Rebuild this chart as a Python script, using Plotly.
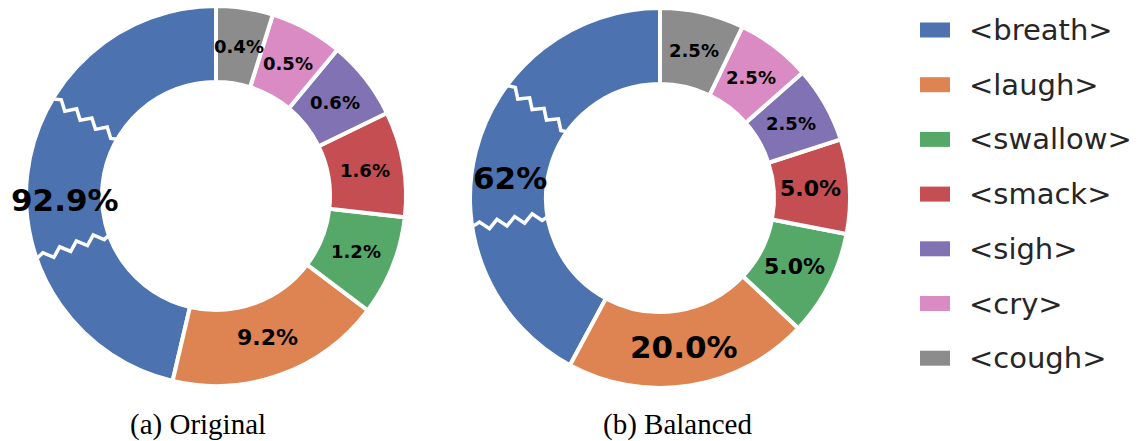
import math
import plotly.graph_objects as go

# ---------------- data ----------------
categories = ["<breath>", "<laugh>", "<swallow>", "<smack>", "<sigh>", "<cry>", "<cough>"]
colors = ["#4C72B0", "#DD8452", "#55A868", "#C44E52", "#8172B3", "#DA8BC3", "#8C8C8C"]

# printed percentages
original_labels = ["92.9%", "9.2%", "1.2%", "1.6%", "0.6%", "0.5%", "0.4%"]
balanced_labels = ["62%", "20.0%", "5.0%", "5.0%", "2.5%", "2.5%", "2.5%"]

# displayed (visual) slice sizes, in degrees of the ring (breath slice is "broken")
original_slice = [166.8, 66.2, 30.6, 32.3, 24.4, 22.3, 17.4]
balanced_slice = [151.7, 75.0, 32.4, 28.9, 23.3, 23.0, 25.7]

# label font sizes
original_label_size = [31, 22, 18, 18, 18, 18, 18]
balanced_label_size = [31, 31, 22, 22, 18, 18, 18]

subtitles = ["(a) Original", "(b) Balanced"]

# ---------------- layout constants ----------------
W, H = 1137, 441
HOLE = 0.6
R = 190
charts = [
    dict(cx=216, cy=196, slices=original_slice, labels=original_labels,
         sizes=original_label_size, breaks=(-24, 26), first_label_shift=8,
         title=subtitles[0], tx=198),
    dict(cx=660, cy=198, slices=balanced_slice, labels=balanced_labels,
         sizes=balanced_label_size, breaks=(-22, 23), first_label_shift=6.5,
         title=subtitles[1], tx=677),
]


def px(x):
    return x / W


def py(y):
    return 1 - y / H


fig = go.Figure()
annotations = []
shapes = []

for ch in charts:
    cx, cy = ch["cx"], ch["cy"]
    total = sum(ch["slices"])
    first_deg = ch["slices"][0] / total * 360
    fig.add_trace(go.Pie(
        labels=categories,
        values=ch["slices"],
        sort=False,
        direction="counterclockwise",
        rotation=-first_deg,  # first slice starts at 12 o'clock, going counterclockwise
        hole=HOLE,
        textinfo="none",
        hoverinfo="skip",
        showlegend=False,
        marker=dict(colors=colors, line=dict(color="white", width=4)),
        domain=dict(x=[px(cx - R), px(cx + R)], y=[py(cy + R), py(cy - R)]),
    ))

    r_out = R - 2
    r_in = R * HOLE
    r_mid = (r_out + r_in) / 2
    cum = 0.0
    for k, (v, lab, fs) in enumerate(zip(ch["slices"], ch["labels"], ch["sizes"])):
        deg = 90 + (cum + v / 2) / total * 360
        if k == 0:
            deg += ch["first_label_shift"]
        theta = math.radians(deg)
        annotations.append(dict(
            x=px(cx + r_mid * math.cos(theta)),
            y=py(cy - r_mid * math.sin(theta)),
            xref="paper", yref="paper", showarrow=False,
            text="<b>%s</b>" % lab,
            font=dict(family="DejaVu Sans", size=fs, color="black"),
            xanchor="center", yanchor="middle",
        ))
        cum += v

    # zig-zag "break" marks on the breath slice
    mid_breath = 90 + first_deg / 2
    for off in ch["breaks"]:
        phi = math.radians(mid_breath + off)
        ux, uy = math.cos(phi), -math.sin(phi)
        nx, ny = -uy, ux
        r0, r1 = r_out + 3, r_in - 3
        n = 9
        pts = []
        for i in range(n + 1):
            r = r0 + (r1 - r0) * i / n
            a = 0 if i in (0, n) else (4 if i % 2 else -4)
            pts.append((cx + r * ux + a * nx, cy + r * uy + a * ny))
        path = "M " + " L ".join("%.4f,%.4f" % (px(x), py(y)) for x, y in pts)
        shapes.append(dict(type="path", path=path, xref="paper", yref="paper",
                           line=dict(color="white", width=3.5), layer="above"))

    annotations.append(dict(
        x=px(ch["tx"]), y=py(424), xref="paper", yref="paper", showarrow=False,
        text=ch["title"], font=dict(family="Liberation Serif", size=29, color="black"),
        xanchor="center", yanchor="middle",
    ))

# manual legend
for i, (cat, col) in enumerate(zip(categories, colors)):
    yc = 30 + i * 54.7
    shapes.append(dict(type="rect", xref="paper", yref="paper",
                       x0=px(920), x1=px(950), y0=py(yc + 7.5), y1=py(yc - 7.5),
                       fillcolor=col, line=dict(width=0), layer="above"))
    annotations.append(dict(
        x=px(967), y=py(yc), xref="paper", yref="paper", showarrow=False,
        text=cat.replace("<", "&lt;").replace(">", "&gt;"),
        font=dict(family="DejaVu Sans", size=29, color="#262626"),
        xanchor="left", yanchor="middle",
    ))

fig.update_layout(
    width=W, height=H,
    margin=dict(l=0, r=0, t=0, b=0),
    paper_bgcolor="white", plot_bgcolor="white",
    annotations=annotations, shapes=shapes,
    showlegend=False,
)

fig.write_html("out.html",
               config={"displayModeBar": False},
               post_script="document.body.style.margin='0';document.body.style.overflow='hidden';")
